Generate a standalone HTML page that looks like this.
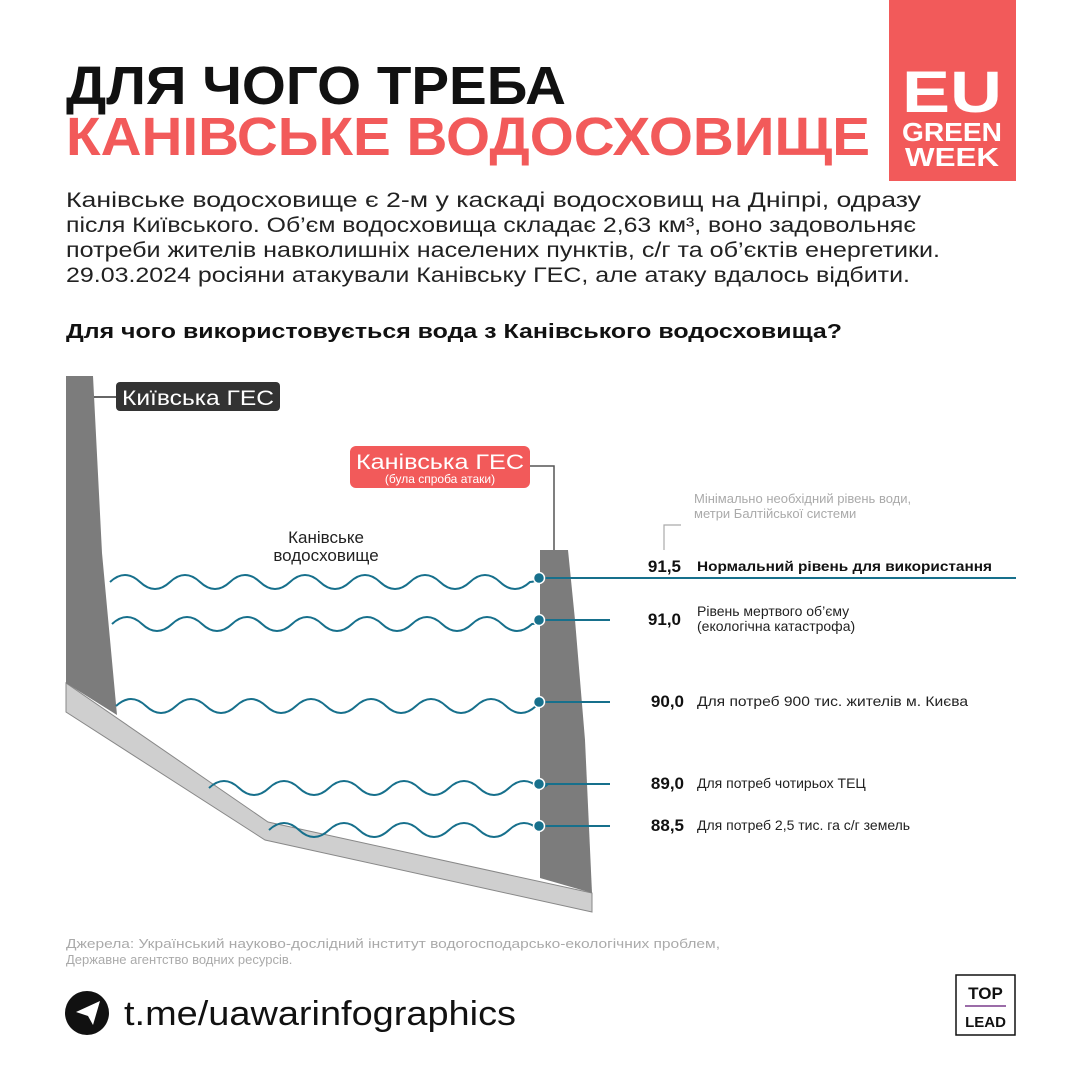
<!DOCTYPE html>
<html><head><meta charset="utf-8"><style>
html,body{margin:0;padding:0;background:#fff}
svg{display:block}
text{font-family:"Liberation Sans","DejaVu Sans",sans-serif}
</style></head><body>
<svg width="1080" height="1080" viewBox="0 0 1080 1080" xmlns="http://www.w3.org/2000/svg">
<!-- Header -->
<text x="66" y="104" font-size="54" font-weight="900" fill="#111" textLength="500" lengthAdjust="spacingAndGlyphs">ДЛЯ ЧОГО ТРЕБА</text>
<text x="66" y="155" font-size="54" font-weight="900" fill="#f25a5a" textLength="804" lengthAdjust="spacingAndGlyphs">КАНІВСЬКЕ ВОДОСХОВИЩЕ</text>
<rect x="889" y="0" width="127" height="181" fill="#f25a5a"/>
<text x="952" y="112" font-size="58" font-weight="900" fill="#fff" text-anchor="middle" textLength="100" lengthAdjust="spacingAndGlyphs">EU</text>
<text x="952" y="141" font-size="26" font-weight="900" fill="#fff" text-anchor="middle" textLength="100" lengthAdjust="spacingAndGlyphs">GREEN</text>
<text x="952" y="166" font-size="26" font-weight="900" fill="#fff" text-anchor="middle" textLength="94" lengthAdjust="spacingAndGlyphs">WEEK</text>
<!-- paragraph -->
<g font-size="21" fill="#222">
<text x="66" y="207" textLength="855" lengthAdjust="spacingAndGlyphs">Канівське водосховище є 2-м у каскаді водосховищ на Дніпрі, одразу</text>
<text x="66" y="232" textLength="850" lengthAdjust="spacingAndGlyphs">після Київського. Об’єм водосховища складає 2,63 км³, воно задовольняє</text>
<text x="66" y="257" textLength="874" lengthAdjust="spacingAndGlyphs">потреби жителів навколишніх населених пунктів, с/г та об’єктів енергетики.</text>
<text x="66" y="282" textLength="844" lengthAdjust="spacingAndGlyphs">29.03.2024 росіяни атакували Канівську ГЕС, але атаку вдалось відбити.</text>
</g>
<text x="66" y="338" font-size="20" font-weight="bold" fill="#111" textLength="776" lengthAdjust="spacingAndGlyphs">Для чого використовується вода з Канівського водосховища?</text>
<!-- bed -->
<polygon points="66,683 268,822 592,893 592,912 265,840 66,712" fill="#cfcfcf" stroke="#888" stroke-width="1"/>
<!-- Kyiv dam -->
<polygon points="66,376 93,376 102,553 117,715 66,683" fill="#7c7c7c"/>
<!-- Kaniv dam -->
<polygon points="540,550 568,550 575,620 585,740 592,893 540,878" fill="#7c7c7c"/>
<!-- leaders -->
<polyline points="94,397 118,397" stroke="#333" stroke-width="1.5" fill="none"/>
<polyline points="528,466 554,466 554,550" stroke="#555" stroke-width="1.5" fill="none"/>
<polyline points="681,525 664,525 664,550" stroke="#aaa" stroke-width="1.2" fill="none"/>
<!-- labels -->
<rect x="116" y="382" width="164" height="29" rx="4" fill="#333"/>
<text x="198" y="405" font-size="21" fill="#fff" text-anchor="middle" textLength="152" lengthAdjust="spacingAndGlyphs">Київська ГЕС</text>
<rect x="350" y="446" width="180" height="42" rx="6" fill="#f25a5a"/>
<text x="440" y="469" font-size="21" fill="#fff" text-anchor="middle" textLength="168" lengthAdjust="spacingAndGlyphs">Канівська ГЕС</text>
<text x="440" y="483" font-size="12" fill="#fff" text-anchor="middle">(була спроба атаки)</text>
<text x="326" y="543" font-size="17" fill="#222" text-anchor="middle">Канівське</text>
<text x="326" y="561" font-size="17" fill="#222" text-anchor="middle">водосховище</text>
<text x="694" y="503" font-size="13" fill="#aaa">Мінімально необхідний рівень води,</text>
<text x="694" y="518" font-size="13" fill="#aaa">метри Балтійської системи</text>
<!-- waves -->
<g stroke="#17708c" stroke-width="2" fill="none">
<path d="M110,582 q15,-14 30,0 t30,0 t30,0 t30,0 t30,0 t30,0 t30,0 t30,0 t30,0 t30,0 t30,0 t30,0 t30,0 t30,0 q5,0 9,-4"/>
<path d="M112,624 q15,-14 30,0 t30,0 t30,0 t30,0 t30,0 t30,0 t30,0 t30,0 t30,0 t30,0 t30,0 t30,0 t30,0 t30,0 q5,0 7,-4"/>
<path d="M116,706 q15,-14 30,0 t30,0 t30,0 t30,0 t30,0 t30,0 t30,0 t30,0 t30,0 t30,0 t30,0 t30,0 t30,0 t30,0 q2,0 3,-4"/>
<path d="M209,788 q15,-14 30,0 t30,0 t30,0 t30,0 t30,0 t30,0 t30,0 t30,0 t30,0 t30,0 t30,0 q5,0 9,-4"/>
<path d="M269,830 q15,-14 30,0 t30,0 t30,0 t30,0 t30,0 t30,0 t30,0 t30,0 t30,0 q4,0 5,-4"/>
<line x1="539" y1="578" x2="1016" y2="578"/>
<line x1="539" y1="620" x2="610" y2="620"/>
<line x1="539" y1="702" x2="610" y2="702"/>
<line x1="539" y1="784" x2="610" y2="784"/>
<line x1="539" y1="826" x2="610" y2="826"/>
</g>
<g fill="#17708c" stroke="#fff" stroke-width="1.5">
<circle cx="539" cy="578" r="5.5"/><circle cx="539" cy="620" r="5.5"/><circle cx="539" cy="702" r="5.5"/><circle cx="539" cy="784" r="5.5"/><circle cx="539" cy="826" r="5.5"/>
</g>
<!-- values -->
<g font-size="17" font-weight="900" fill="#111" text-anchor="end">
<text x="681" y="572">91,5</text>
<text x="681" y="625">91,0</text>
<text x="684" y="707">90,0</text>
<text x="684" y="789">89,0</text>
<text x="684" y="831">88,5</text>
</g>
<text x="697" y="571" font-size="13.5" font-weight="bold" fill="#111" textLength="295" lengthAdjust="spacingAndGlyphs">Нормальний рівень для використання</text>
<g font-size="14" fill="#222">
<text x="697" y="616">Рівень мертвого об’єму</text>
<text x="697" y="631">(екологічна катастрофа)</text>
<text x="697" y="706" textLength="271" lengthAdjust="spacingAndGlyphs">Для потреб 900 тис. жителів м. Києва</text>
<text x="697" y="788">Для потреб чотирьох ТЕЦ</text>
<text x="697" y="830">Для потреб 2,5 тис. га с/г земель</text>
</g>
<!-- footer -->
<text x="66" y="948" font-size="13" fill="#aaa" textLength="654" lengthAdjust="spacingAndGlyphs">Джерела: Український науково-дослідний інститут водогосподарсько-екологічних проблем,</text>
<text x="66" y="964" font-size="13" fill="#aaa">Державне агентство водних ресурсів.</text>
<circle cx="87" cy="1013" r="22" fill="#111"/>
<polygon points="76,1012 100,1001 93,1025 88,1016" fill="#fff"/>
<text x="124" y="1025" font-size="34" fill="#111" textLength="392" lengthAdjust="spacingAndGlyphs">t.me/uawarinfographics</text>
<rect x="956" y="975" width="59" height="60" fill="#fff" stroke="#111" stroke-width="1.5"/>
<text x="985.5" y="999" font-size="17" font-weight="bold" fill="#111" text-anchor="middle">TOP</text>
<line x1="965" y1="1006" x2="1006" y2="1006" stroke="#7a3b8c" stroke-width="1.5"/>
<text x="985.5" y="1027" font-size="15" font-weight="bold" fill="#111" text-anchor="middle">LEAD</text>
</svg>
</body></html>
